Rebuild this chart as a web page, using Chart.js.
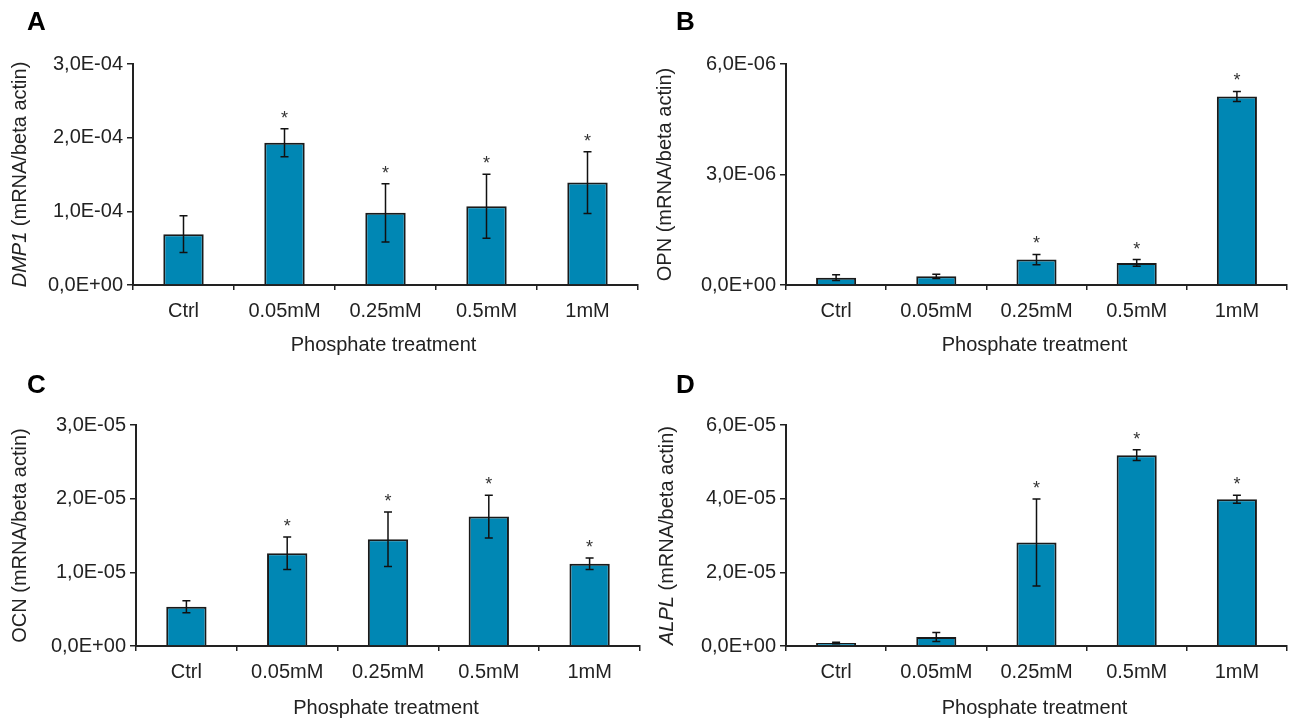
<!DOCTYPE html>
<html>
<head>
<meta charset="utf-8">
<script src="https://cdn.jsdelivr.net/npm/chart.js@4.4.1/dist/chart.umd.min.js"></script>
<style>
  body { margin: 0; width: 1296px; height: 720px; background: #fff; position: relative; overflow: hidden; }
  .panel { position: absolute; width: 648px; height: 360px; }
  .letter { position: absolute; font: bold 26px "Liberation Sans", Arial, sans-serif; line-height: 26px; color: #000; }
</style>
</head>
<body>
<div class="panel" style="left:0;top:0"><canvas id="chartA" width="648" height="360"></canvas></div>
<div class="panel" style="left:648px;top:0"><canvas id="chartB" width="648" height="360"></canvas></div>
<div class="panel" style="left:0;top:360px"><canvas id="chartC" width="648" height="360"></canvas></div>
<div class="panel" style="left:648px;top:360px"><canvas id="chartD" width="648" height="360"></canvas></div>
<div class="letter" style="left:27px;top:8px">A</div>
<div class="letter" style="left:676px;top:8px">B</div>
<div class="letter" style="left:27px;top:371px">C</div>
<div class="letter" style="left:676px;top:371px">D</div>

<script>
const categories = ["Ctrl", "0.05mM", "0.25mM", "0.5mM", "1mM"];
const xTitle = "Phosphate treatment";
const yUnit = " (mRNA/beta actin)";

// A - DMP1
const dmp1Values = [0.69e-4, 1.93e-4, 0.98e-4, 1.07e-4, 1.39e-4];
const dmp1Errors = [0.25e-4, 0.19e-4, 0.395e-4, 0.435e-4, 0.42e-4];
const dmp1Signif = [false, true, true, true, true];
const dmp1Ticks = [0, 1e-4, 2e-4, 3e-4];

// B - OPN
const opnValues = [0.2e-6, 0.235e-6, 0.69e-6, 0.6e-6, 5.12e-6];
const opnErrors = [0.08e-6, 0.06e-6, 0.14e-6, 0.09e-6, 0.135e-6];
const opnSignif = [false, false, true, true, true];
const opnTicks = [0, 3e-6, 6e-6];

// C - OCN
const ocnValues = [0.533e-5, 1.26e-5, 1.45e-5, 1.757e-5, 1.116e-5];
const ocnErrors = [0.08e-5, 0.22e-5, 0.37e-5, 0.29e-5, 0.077e-5];
const ocnSignif = [false, true, true, true, true];
const ocnTicks = [0, 1e-5, 2e-5, 3e-5];

// D - ALPL
const alplValues = [0.08e-5, 0.244e-5, 2.81e-5, 5.18e-5, 3.985e-5];
const alplErrors = [0.02e-5, 0.12e-5, 1.18e-5, 0.145e-5, 0.11e-5];
const alplSignif = [false, false, true, true, true];
const alplTicks = [0, 2e-5, 4e-5, 6e-5];

const FONT = '"Liberation Sans", Arial, sans-serif';
const TEXT = "#222";
const BAR = "#0087b4";

// 3e-4 -> "3,0E-04"
function sci(v) {
  if (v === 0) return "0,0E+00";
  const parts = v.toExponential(1).split("e");
  const n = parseInt(parts[1], 10);
  return parts[0].replace(".", ",") + "E" + (n < 0 ? "-" : "+") + String(Math.abs(n)).padStart(2, "0");
}

// error bars, asterisks and axis titles
function decorations(gene, italic, errors, signif, titleX, titleY) {
  return {
    id: "decorations",
    afterDatasetsDraw(chart) {
      const ctx = chart.ctx;
      const y = chart.scales.y;
      const values = chart.data.datasets[0].data;
      const bars = chart.getDatasetMeta(0).data;
      ctx.save();
      ctx.strokeStyle = "#111";
      ctx.lineWidth = 1.5;
      bars.forEach(function (bar, i) {
        const hi = y.getPixelForValue(values[i] + errors[i]);
        const lo = y.getPixelForValue(values[i] - errors[i]);
        ctx.beginPath();
        ctx.moveTo(bar.x, hi);
        ctx.lineTo(bar.x, lo);
        ctx.moveTo(bar.x - 4, hi);
        ctx.lineTo(bar.x + 4, hi);
        ctx.moveTo(bar.x - 4, lo);
        ctx.lineTo(bar.x + 4, lo);
        ctx.stroke();
        if (signif[i]) {
          ctx.fillStyle = "#333";
          ctx.font = "18px " + FONT;
          ctx.textAlign = "center";
          ctx.textBaseline = "alphabetic";
          ctx.fillText("*", bar.x, hi - 5);
        }
      });
      ctx.restore();
    },
    afterDraw(chart) {
      const ctx = chart.ctx;
      const area = chart.chartArea;
      ctx.save();
      ctx.fillStyle = TEXT;
      ctx.textBaseline = "middle";
      // x title
      ctx.font = "20px " + FONT;
      ctx.textAlign = "center";
      ctx.fillText(xTitle, (area.left + area.right) / 2 - 2, titleY);
      // y title, gene name in italic for some panels
      ctx.translate(titleX, (area.top + area.bottom) / 2);
      ctx.rotate(-Math.PI / 2);
      const geneFont = (italic ? "italic " : "") + "20px " + FONT;
      ctx.font = geneFont;
      const gw = ctx.measureText(gene).width;
      ctx.font = "20px " + FONT;
      const uw = ctx.measureText(yUnit).width;
      const start = -(gw + uw) / 2;
      ctx.textAlign = "left";
      ctx.font = geneFont;
      ctx.fillText(gene, start, 0);
      ctx.font = "20px " + FONT;
      ctx.fillText(yUnit, start + gw, 0);
      ctx.restore();
    }
  };
}

function makeChart(id, gene, italic, values, errors, signif, ticks, box) {
  return new Chart(document.getElementById(id), {
    type: "bar",
    data: {
      labels: categories,
      datasets: [{
        data: values,
        backgroundColor: BAR,
        borderColor: "#1a1a1a",
        borderWidth: 2,
        barPercentage: 0.4,
        categoryPercentage: 1.0
      }]
    },
    options: {
      responsive: false,
      animation: false,
      layout: { padding: { left: 0, right: box.right, top: box.top, bottom: 0 } },
      plugins: { legend: { display: false }, tooltip: { enabled: false } },
      scales: {
        x: {
          offset: true,
          grid: { display: true, drawOnChartArea: false, offset: true, tickLength: 5, color: "#222", lineWidth: 1.5 },
          border: { display: true, color: "#222", width: 2 },
          ticks: { color: TEXT, font: { family: FONT, size: 20 }, padding: 9, maxRotation: 0 },
          afterFit: function (s) { s.height = box.xHeight; }
        },
        y: {
          min: 0,
          max: ticks[ticks.length - 1],
          afterBuildTicks: function (s) { s.ticks = ticks.map(function (v) { return { value: v }; }); },
          grid: { display: true, drawOnChartArea: false, tickLength: 6, color: "#222", lineWidth: 1.5 },
          border: { display: true, color: "#222", width: 2 },
          ticks: { color: TEXT, font: { family: FONT, size: 20 }, padding: 4, callback: function (v) { return sci(v); } },
          afterFit: function (s) { s.width = box.yWidth; }
        }
      }
    },
    plugins: [decorations(gene, italic, errors, signif, box.titleX, box.titleY)]
  });
}

makeChart("chartA", "DMP1", true, dmp1Values, dmp1Errors, dmp1Signif, dmp1Ticks,
  { yWidth: 133, right: 10, top: 64, xHeight: 75, titleX: 20, titleY: 345 });
makeChart("chartB", "OPN", false, opnValues, opnErrors, opnSignif, opnTicks,
  { yWidth: 138, right: 9, top: 64, xHeight: 75, titleX: 17, titleY: 345 });
makeChart("chartC", "OCN", false, ocnValues, ocnErrors, ocnSignif, ocnTicks,
  { yWidth: 136, right: 8, top: 65, xHeight: 74, titleX: 20, titleY: 348 });
makeChart("chartD", "ALPL", true, alplValues, alplErrors, alplSignif, alplTicks,
  { yWidth: 138, right: 9, top: 65, xHeight: 74, titleX: 19, titleY: 348 });
</script>
</body>
</html>
